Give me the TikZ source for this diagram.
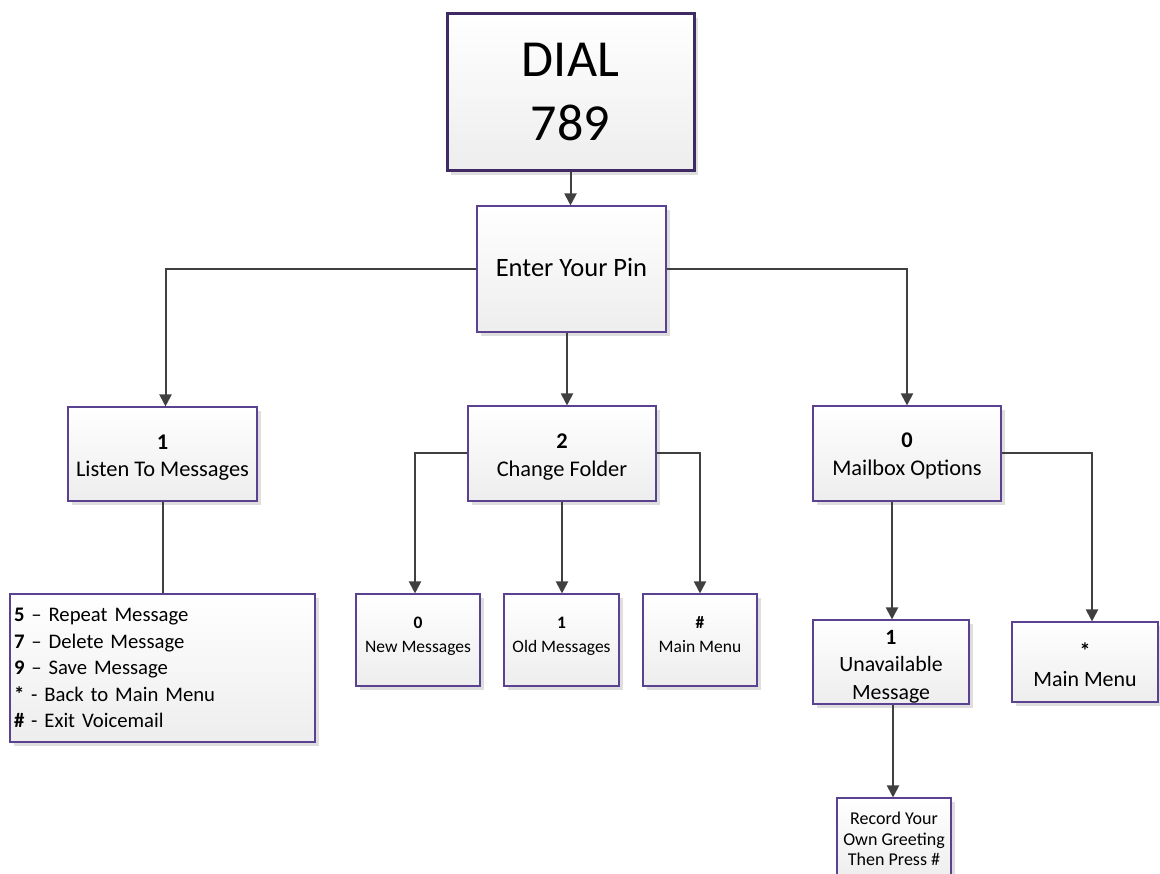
\documentclass[tikz,border=0pt]{standalone}
\usepackage{fontspec}
\setmainfont{Carlito}
\usetikzlibrary{arrows.meta,shadows}
\definecolor{boxline}{HTML}{5B4290}
\definecolor{dialline}{HTML}{3F2A63}
\definecolor{conn}{HTML}{404040}
\newcommand\myhstrut[1]{\rule{0pt}{#1}}
\newcommand\mydstrut[1]{\rule[-#1]{0pt}{#1}}
\begin{document}
\begin{tikzpicture}[x=1pt,y=-1pt,
  box/.style={draw=boxline, line width=1.1pt, top color=white, bottom color=black!7,
    drop shadow={shadow xshift=4pt, shadow yshift=-4pt, fill=black!13, opacity=1},
    inner sep=0pt, align=center, text=black},
  link/.style={draw=conn, line width=2pt},
  arr/.style={link, -{Triangle[length=12pt,width=12pt]}},
  big/.style={font=\fontsize{22.4}{28}\selectfont},
  small/.style={font=\fontsize{17.5}{24}\selectfont}]
\useasboundingbox (0,0) rectangle (1160,874);
\clip (0,0) rectangle (1160,874);
\node[box, draw=dialline, line width=3pt, minimum width=247, minimum height=157,
  font=\fontsize{52}{64}\selectfont] (dial) at (570.5,92.5) {DIAL\\789};
\node[box, minimum width=189, minimum height=126, font=\fontsize{26.5}{30}\selectfont]
  (pin) at (571.5,269) {Enter Your Pin\mydstrut{4pt}};
\node[box, big, minimum width=189, minimum height=94] (listen) at (162.5,454)
  {\myhstrut{24pt}{\bfseries 1}\\Listen To Messages\mydstrut{6pt}};
\node[box, big, minimum width=188, minimum height=95] (cf) at (562,453.5)
  {\myhstrut{24pt}{\bfseries 2}\\Change Folder\mydstrut{6pt}};
\node[box, big, minimum width=188, minimum height=95] (mb) at (907,453.5)
  {\myhstrut{22pt}{\bfseries 0}\\Mailbox Options\mydstrut{6pt}};
\node[box, minimum width=305, minimum height=148, text width=297, align=left,
  font=\fontsize{20.7}{26.5}\selectfont] (list) at (162.5,668)
  {{\bfseries 5} – Repeat Message\\{\bfseries 7} – Delete Message\\{\bfseries 9} – Save Message\\{\bfseries *} - Back to Main Menu\\{\bfseries \#} - Exit Voicemail};
\node[box, small, minimum width=124, minimum height=92] (new) at (418,640)
  {\myhstrut{12pt}{\bfseries 0}\\New Messages\mydstrut{11pt}};
\node[box, small, minimum width=115, minimum height=92] (old) at (561.5,640)
  {\myhstrut{12pt}{\bfseries 1}\\Old Messages\mydstrut{11pt}};
\node[box, small, minimum width=114, minimum height=92] (mm1) at (700,640)
  {\myhstrut{12pt}{\bfseries \#}\\Main Menu\mydstrut{11pt}};
\node[box, minimum width=156, minimum height=80, font=\fontsize{21.8}{27.5}\selectfont]
  (un) at (891,662) {\myhstrut{24pt}{\bfseries 1}\\Unavailable\\Message\mydstrut{5pt}};
\node[box, minimum width=146, minimum height=80, font=\fontsize{21.9}{28}\selectfont]
  (mm2) at (1085,662) {\myhstrut{21pt}{\bfseries *}\\Main Menu};
\node[box, minimum width=114, minimum height=82, font=\fontsize{18}{20.5}\selectfont]
  (rec) at (894,839) {Record Your\\Own Greeting\\Then Press \#};
% connectors
\draw[arr] (dial.south) -- (dial.south |- pin.north);
\draw[arr] (pin.west) -| ([xshift=3pt]listen.north);
\draw[arr] ([xshift=-4.5pt]pin.south) -- ([xshift=-4.5pt]pin.south |- cf.north);
\draw[arr] (pin.east) -| (mb.north);
\draw[link] (listen.south) -- (listen.south |- list.north);
\draw[arr] (cf.west) -| ([xshift=-3pt]new.north);
\draw[arr] (cf.south) -- (cf.south |- old.north);
\draw[arr] (cf.east) -| (mm1.north);
\draw[arr] ([xshift=-15pt]mb.south) -- ([xshift=-15pt]mb.south |- un.north);
\draw[arr] (mb.east) -| ([xshift=7pt]mm2.north);
\draw[arr] ([xshift=2pt]un.south) -- ([xshift=2pt]un.south |- rec.north);
\end{tikzpicture}
\end{document}
